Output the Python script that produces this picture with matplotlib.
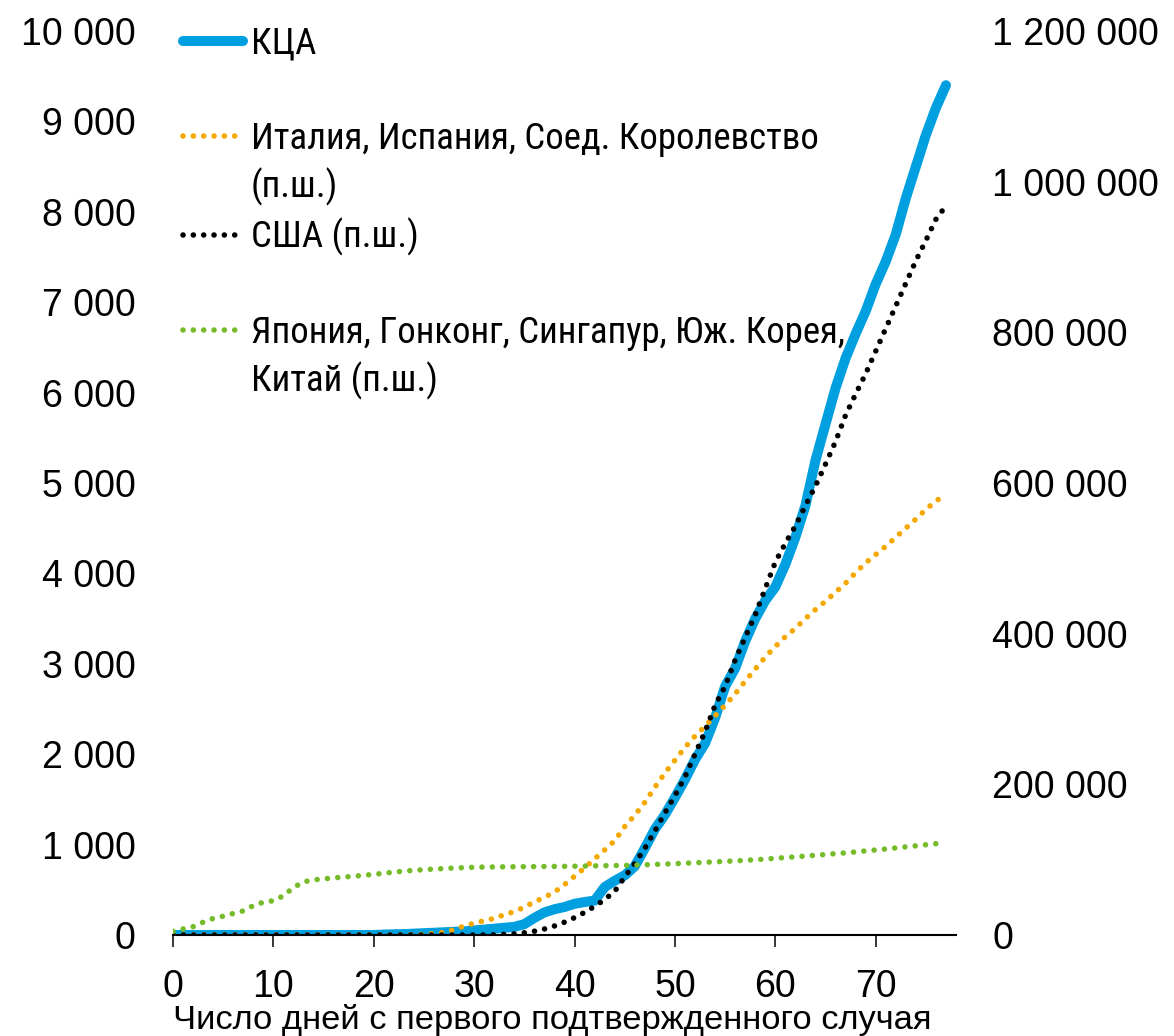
import matplotlib
matplotlib.use("Agg")
import matplotlib.pyplot as plt
from matplotlib.lines import Line2D
from matplotlib.ticker import FuncFormatter, MultipleLocator

# ---------------- data ----------------
days = list(range(0, 78))

kca = [0, 0, 0, 0, 0, 0, 0, 0, 0, 0,
       0, 0, 0, 0, 0, 0, 0, 0, 0, 0,
       0, 5, 8, 10, 15, 20, 25, 30, 35, 40,
       50, 60, 70, 80, 90, 120, 190, 250, 285, 310,
       345, 365, 380, 530, 600, 660, 760, 960, 1170, 1330,
       1520, 1720, 1940, 2120, 2400, 2750, 2950, 3250, 3500, 3700,
       3850, 4100, 4400, 4750, 5250, 5650, 6050, 6380, 6650, 6900,
       7200, 7450, 7750, 8150, 8500, 8850, 9150, 9400]

usa = [0, 0, 0, 0, 0, 0, 0, 0, 0, 0,
       0, 0, 0, 0, 0, 0, 0, 0, 0, 0,
       0, 0, 0, 0, 0, 0, 0, 0, 0, 0,
       0, 0, 200, 800, 1500, 3000, 5000, 8000, 12000, 17000,
       23000, 30000, 38000, 47000, 58000, 77000, 95000, 115000, 138000, 162000,
       185000, 210000, 240000, 270000, 305000, 330000, 365000, 395000, 425000, 460000,
       495000, 520000, 543000, 570000, 596000, 625000, 655000, 690000, 718000, 745000,
       775000, 805000, 835000, 865000, 895000, 922000, 950000, 968000]

europe = [0, 0, 0, 0, 0, 0, 0, 0, 0, 0,
          0, 0, 0, 0, 0, 0, 0, 0, 0, 0,
          0, 0, 0, 0, 500, 1000, 2000, 3500, 7000, 12000,
          15500, 19000, 22000, 27000, 31000, 37000, 44000, 50000, 57000, 67000,
          78000, 89000, 101000, 113000, 125000, 144000, 159000, 176000, 196000, 215000,
          232000, 249000, 264000, 277000, 291000, 305000, 320000, 337000, 353000, 369000,
          383000, 396000, 407000, 420000, 432000, 443000, 455000, 467000, 481000, 494000,
          505000, 516000, 528000, 540000, 552000, 565000, 576000, 585000]

asia = [5000, 8000, 11000, 17000, 22000, 25000, 28500, 32000, 39000, 43500,
        45500, 52000, 63000, 70500, 73200, 74500, 75800, 77000, 78000, 79300,
        80500, 82000, 83500, 84800, 85800, 86700, 87500, 88200, 88900, 89400,
        89900, 90200, 90400, 90500, 90600, 90700, 90800, 90900, 91000, 91100,
        91300, 91500, 91800, 92000, 92200, 92400, 92700, 93200, 93700, 94200,
        94700, 95300, 95900, 96500, 97100, 97700, 98400, 99100, 99900, 100800,
        101800, 102800, 103800, 104800, 105800, 106900, 108000, 109000, 110300, 111600,
        112900, 114200, 115600, 117000, 118400, 119800, 121200, 122400]

label_kca = "КЦА"
label_eu = ["Италия, Испания, Соед. Королевство", "(п.ш.)"]
label_usa = "США (п.ш.)"
label_asia = ["Япония, Гонконг, Сингапур, Юж. Корея,", "Китай (п.ш.)"]
xlabel = "Число дней с первого подтвержденного случая"

# ---------------- style ----------------
C_BLUE = "#009fdf"
C_ORANGE = "#f5a800"
C_BLACK = "#000000"
C_GREEN = "#76bc2a"

plt.rcParams['font.family'] = ['Liberation Sans', 'DejaVu Sans']

W, H = 1174, 1036
fig = plt.figure(figsize=(W / 100, H / 100), dpi=100)
ax = fig.add_axes([173 / W, (H - 935) / H, (956 - 173) / W, (935 - 31) / H])
ax2 = ax.twinx()

ax.plot(days, kca, color=C_BLUE, lw=7.2, solid_capstyle='round', solid_joinstyle='round', zorder=2)

dot = dict(lw=4.0, linestyle=(0, (0.01, 1.85)), dash_capstyle='round')
ax2.plot(days, europe, color=C_ORANGE, **dot)
ax2.plot(days, usa, color=C_BLACK, **dot)
ax2.plot(days, asia, color=C_GREEN, **dot)

ax.set_xlim(0, 78)
ax.set_ylim(0, 10000)
ax2.set_ylim(0, 1200000)
ax.xaxis.set_major_locator(MultipleLocator(10))
ax.yaxis.set_major_locator(MultipleLocator(1000))
ax2.yaxis.set_major_locator(MultipleLocator(200000))

fmt = FuncFormatter(lambda v, p: f"{int(round(v)):,}".replace(",", " "))
ax.yaxis.set_major_formatter(fmt)
ax2.yaxis.set_major_formatter(fmt)

for a in (ax, ax2):
    for s in ("top", "left", "right"):
        a.spines[s].set_visible(False)
ax2.spines["bottom"].set_visible(False)
ax.spines["bottom"].set_linewidth(1.5)

ax.tick_params(axis='x', direction='out', length=8.6, width=1.1, pad=16, labelsize=27)
ax.tick_params(axis='y', length=0, pad=27, labelsize=27)
ax2.tick_params(axis='y', length=0, pad=26, labelsize=27)

ax.set_xlabel(xlabel, fontsize=24.8, loc='left', labelpad=-1)
ax.patch.set_visible(False)

# legend (continuation lines as extra rows without handles)
blank = Line2D([], [], color='none')
handles = [
    Line2D([], [], color=C_BLUE, lw=7.2, solid_capstyle='round'),
    blank,
    Line2D([], [], color=C_ORANGE, **dot),
    blank,
    Line2D([], [], color=C_BLACK, **dot),
    blank,
    Line2D([], [], color=C_GREEN, **dot),
    blank,
]
labels = [label_kca, "", label_eu[0], label_eu[1], label_usa, "", label_asia[0], label_asia[1]]
fig.legend(handles, labels, loc='upper left', bbox_to_anchor=(183 / W, 1 - 26 / H),
           frameon=False, borderpad=0, borderaxespad=0, handlelength=1.62,
           handletextpad=0.22, labelspacing=0.307,
           prop=dict(family=['Roboto Condensed', 'DejaVu Sans'], size=26.5))

fig.savefig("out.png", dpi=100)
